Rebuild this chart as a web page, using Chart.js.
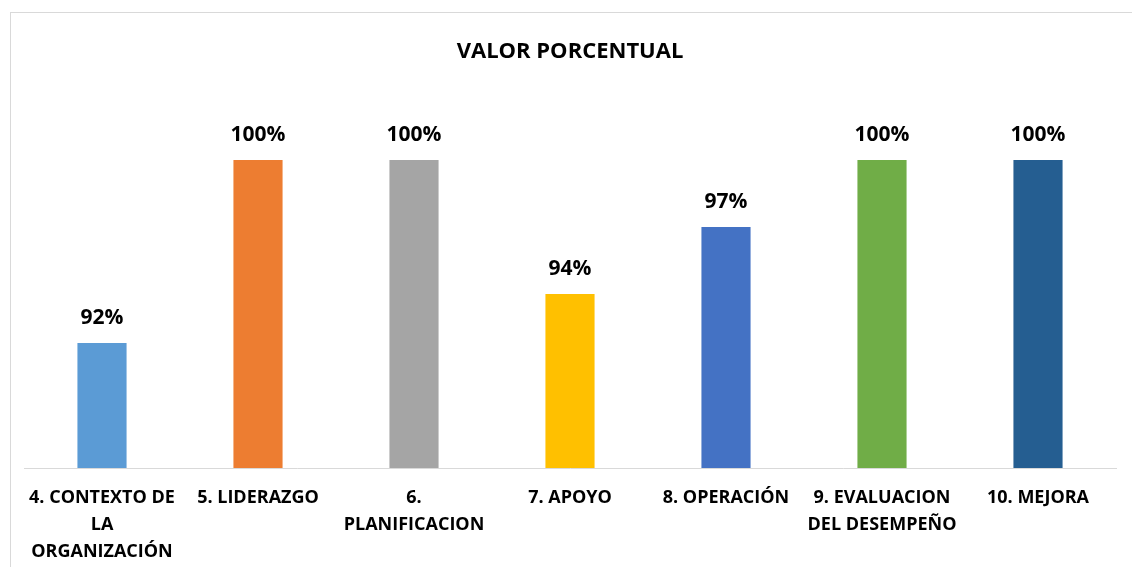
<!DOCTYPE html>
<html>
<head>
<meta charset="utf-8">
<script src="https://cdn.jsdelivr.net/npm/chart.js@4.4.0/dist/chart.umd.min.js"></script>
<style>
  body { margin: 0; background: #fff; }
  #wrap { position: relative; width: 1132px; height: 567px; overflow: hidden; }
  #frame { position: absolute; left: 10px; top: 12px; width: 1200px; height: 700px; border: 1px solid #d9d9d9; }
  canvas { position: absolute; left: 0; top: 0; }
</style>
</head>
<body>
<div id="wrap">
  <div id="frame"></div>
  <canvas id="chart" width="1132" height="567"></canvas>
</div>
<script>
const categories = [
  ['4. CONTEXTO DE', 'LA', 'ORGANIZACIÓN'],
  '5. LIDERAZGO',
  ['6.', 'PLANIFICACION'],
  '7. APOYO',
  '8. OPERACIÓN',
  ['9. EVALUACION', 'DEL DESEMPEÑO'],
  '10. MEJORA'
];
const values = [91.8, 100, 100, 94, 97, 100, 100];
const barColors = ['#5B9BD5', '#ED7D31', '#A5A5A5', '#FFC000', '#4472C4', '#70AD47', '#255E91'];

const FONT = "'Open Sans', sans-serif";

// value labels above the bars
const barLabels = {
  id: 'barLabels',
  afterDatasetsDraw(chart) {
    const ctx = chart.ctx;
    const meta = chart.getDatasetMeta(0);
    ctx.save();
    ctx.font = 'bold 21px ' + FONT;
    ctx.fillStyle = '#000';
    ctx.textAlign = 'center';
    ctx.textBaseline = 'middle';
    meta.data.forEach((bar, i) => {
      ctx.fillText(Math.round(values[i]) + '%', bar.x, bar.y - 25);
    });
    ctx.restore();
  }
};

new Chart(document.getElementById('chart'), {
  type: 'bar',
  data: {
    labels: categories,
    datasets: [{
      data: values,
      backgroundColor: barColors,
      barPercentage: 0.63,
      categoryPercentage: 0.5
    }]
  },
  options: {
    responsive: false,
    animation: false,
    layout: { padding: { left: 24, right: 16, top: 0, bottom: 0 } },
    plugins: {
      legend: { display: false },
      tooltip: { enabled: false },
      title: {
        display: true,
        text: 'VALOR PORCENTUAL',
        color: '#000',
        font: { family: FONT, size: 22, weight: 'bold', lineHeight: 1.2 },
        padding: { top: 39, bottom: 50 }
      }
    },
    scales: {
      x: {
        grid: { display: false },
        border: { display: true, color: '#d9d9d9', width: 1 },
        ticks: {
          color: '#000',
          font: { family: FONT, size: 18, weight: 'bold', lineHeight: 1.5 },
          maxRotation: 0,
          autoSkip: false,
          padding: 8
        },
        afterFit(scale) { scale.height = 99; }
      },
      y: {
        display: false,
        min: 86.2,
        max: 102
      }
    }
  },
  plugins: [barLabels]
});
</script>
</body>
</html>
